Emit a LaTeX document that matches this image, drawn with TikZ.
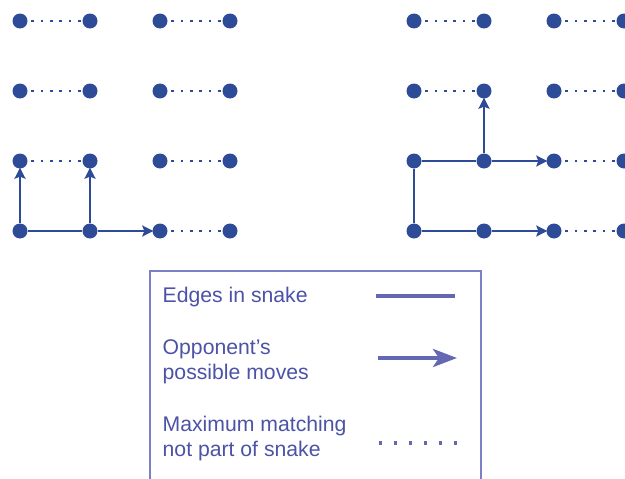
\documentclass[tikz,border=0pt]{standalone}
\usepackage{fontspec}
\setmainfont{Liberation Sans}
\usetikzlibrary{arrows.meta}

\definecolor{dotblue}{HTML}{2E4B97}
\definecolor{textblue}{HTML}{4C52A6}
\definecolor{legblue}{HTML}{6468B2}
\definecolor{boxblue}{HTML}{7C80C4}

\tikzset{
  vertex/.style={circle, fill=dotblue, draw=none, inner sep=0pt, minimum size=15pt},
  snakeedge/.style={draw=dotblue, line width=2.7pt},
  move/.style={draw=dotblue, line width=2.7pt, shorten >=-1pt,
    -{Stealth[length=11pt, width=11pt, inset=2pt]}},
  matching/.style={draw=dotblue, line width=2.6pt,
    dash pattern=on 2.6pt off 6.8pt, dash phase=5.9pt},
  legtext/.style={anchor=base west, inner sep=0pt, text=textblue,
    font=\fontsize{21.2}{25}\selectfont},
}

\begin{document}
\begin{tikzpicture}[x=1pt, y=-1pt]
  \useasboundingbox (0,0) rectangle (625,479);

  % two 4x4 grids of vertices: L (left) and R (right); column c, row r (top to bottom)
  \foreach \c/\x in {1/20, 2/90, 3/160, 4/230}
    \foreach \r/\y in {1/21, 2/91, 3/161, 4/231}
      \node[vertex] (L\c\r) at (\x,\y) {};
  \foreach \c/\x in {1/414, 2/484, 3/554, 4/624}
    \foreach \r/\y in {1/21, 2/91, 3/161, 4/231}
      \node[vertex] (R\c\r) at (\x,\y) {};

  % left grid
  \draw[snakeedge] (L14) -- (L24);
  \draw[move] (L24) -- (L34);
  \draw[move] (L14) -- (L13);
  \draw[move] (L24) -- (L23);
  \foreach \a/\b in {L11/L21, L31/L41, L12/L22, L32/L42, L13/L23, L33/L43, L34/L44}
    \draw[matching] (\a) -- (\b);

  % right grid
  \draw[snakeedge] (R24) -- (R14);
  \draw[snakeedge] (R14) -- (R13);
  \draw[snakeedge] (R13) -- (R23);
  \draw[move] (R24) -- (R34);
  \draw[move] (R23) -- (R33);
  \draw[move] (R23) -- (R22);
  \foreach \a/\b in {R11/R21, R31/R41, R12/R22, R32/R42, R33/R43, R34/R44}
    \draw[matching] (\a) -- (\b);

  % legend frame, open at the bottom
  \draw[boxblue, line width=1.5pt] (150,490) -- (150,271) -- (481,271) -- (481,490);

  \node[legtext] (t1) at (162.5,302.5) {Edges in snake};
  \node[legtext] (t2a) at (162.5,354.3) {Opponent’s};
  \node[legtext] (t2b) at (162.5,379) {possible moves};
  \node[legtext] (t3a) at (162.5,431.7) {Maximum matching};
  \node[legtext] (t3b) at (162.5,456.4) {not part of snake};

  \coordinate (s1) at (376,296);  \coordinate (e1) at (455,296);
  \coordinate (s2) at (378,358);  \coordinate (e2) at (457,358);
  \coordinate (s3) at (378.5,443); \coordinate (e3) at (458,443);

  \draw[legblue, line width=4pt] (s1) -- (e1);
  \draw[legblue, line width=4pt,
    -{Stealth[length=24pt, width=18pt, inset=6pt]}] (s2) -- (e2);
  \draw[legblue, line width=3.5pt, dash pattern=on 3.5pt off 11.5pt] (s3) -- (e3);
\end{tikzpicture}
\end{document}
